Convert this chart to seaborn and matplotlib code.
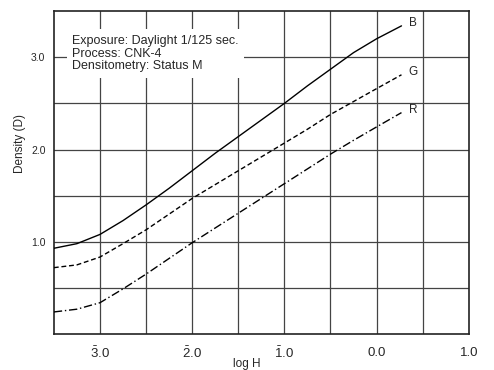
import pandas as pd
import matplotlib
matplotlib.use("Agg")
import matplotlib.pyplot as plt
import seaborn as sns

sns.set_theme(style="white")
plt.rcParams['font.family'] = ['Liberation Sans', 'DejaVu Sans']
plt.rcParams['mathtext.fontset'] = 'custom'
plt.rcParams['mathtext.rm'] = 'Liberation Sans'
plt.rcParams['mathtext.it'] = 'Liberation Sans:italic'

# log H values (bar notation: 3̄.0 = -3.0)
log_h = [-3.5, -3.25, -3.0, -2.75, -2.5, -2.25, -2.0, -1.75, -1.5, -1.25,
         -1.0, -0.75, -0.5, -0.25, 0.0, 0.27]
dens_b = [0.93, 0.98, 1.08, 1.23, 1.40, 1.58, 1.77, 1.96, 2.14, 2.32,
          2.50, 2.69, 2.87, 3.05, 3.20, 3.34]
dens_g = [0.72, 0.75, 0.835, 0.98, 1.13, 1.30, 1.47, 1.62, 1.77, 1.92,
          2.07, 2.22, 2.38, 2.52, 2.66, 2.81]
dens_r = [0.24, 0.27, 0.34, 0.49, 0.65, 0.82, 0.99, 1.15, 1.31, 1.47,
          1.63, 1.79, 1.95, 2.10, 2.245, 2.40]

x_ticks = [-3, -2, -1, 0, 1]
x_ticklabels = [r"$\bar{\mathrm{3}}$.0", r"$\bar{\mathrm{2}}$.0",
                r"$\bar{\mathrm{1}}$.0", "0.0", "1.0"]
y_ticks = [1, 2, 3]
y_ticklabels = ["1.0", "2.0", "3.0"]
info_lines = ["Exposure: Daylight 1/125 sec.", "Process: CNK-4",
              "Densitometry: Status M"]

fig = plt.figure(figsize=(4.94, 3.70), dpi=100)
ax = fig.add_axes([0.109, 0.097, 0.840, 0.873])

# grid every 0.5
for g in [-3.0, -2.5, -2.0, -1.5, -1.0, -0.5, 0.0, 0.5]:
    ax.axvline(g, color='#444444', lw=0.9, zorder=1)
for g in [0.5, 1.0, 1.5, 2.0, 2.5, 3.0]:
    ax.axhline(g, color='#444444', lw=0.9, zorder=1)

sns.lineplot(x=log_h, y=dens_b, ax=ax, color='black', lw=1.0, zorder=3)
sns.lineplot(x=log_h, y=dens_g, ax=ax, color='black', lw=1.0, zorder=3,
             linestyle=(0, (3.5, 2)))
sns.lineplot(x=log_h, y=dens_r, ax=ax, color='black', lw=1.0, zorder=3,
             linestyle=(0, (6, 2, 1, 2)))

for lab, ys in [("B", dens_b), ("G", dens_g), ("R", dens_r)]:
    ax.text(log_h[-1] + 0.08, ys[-1] + 0.03, lab, fontsize=8.5, va='center',
            ha='left', zorder=4)

ax.text(-3.3, 3.04, "\n".join(info_lines), fontsize=9, va='center',
        ha='left', linespacing=1.1, zorder=5,
        bbox=dict(facecolor='white', edgecolor='none', pad=4))

ax.set_xlim(-3.5, 1.0)
ax.set_ylim(0, 3.5)
# x tick labels on a shared baseline (bar notation labels are mathtext,
# which sits a little higher, so nudge them down)
ax.set_xticks(x_ticks)
ax.set_xticklabels([])
for t, lab in zip(x_ticks, x_ticklabels):
    off = -17 if lab.startswith('$') else -16
    ax.annotate(lab, xy=(t, 0), xycoords=('data', 'axes fraction'),
                xytext=(0, off), textcoords='offset points',
                ha='center', va='baseline', fontsize=9.5,
                annotation_clip=False)
ax.set_yticks(y_ticks)
ax.set_yticklabels(y_ticklabels, fontsize=7.5)
ax.tick_params(axis='x', length=0)
ax.tick_params(axis='y', length=0, pad=6)
ax.set_xlabel("log H", fontsize=8.5)
ax.set_ylabel("Density (D)", fontsize=8.5)
ax.xaxis.set_label_coords(0.464, -0.074)
ax.yaxis.set_label_coords(-0.066, 0.59)
for s in ax.spines.values():
    s.set_color('#222222')
    s.set_linewidth(1.2)

fig.savefig("out.png", dpi=100)
